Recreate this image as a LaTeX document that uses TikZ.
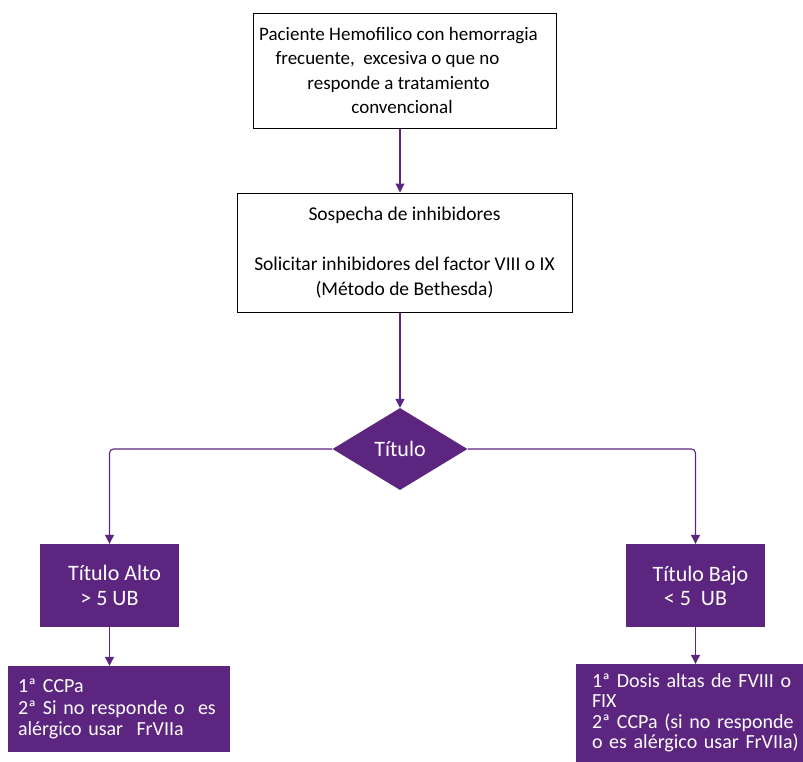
\documentclass[tikz,border=0pt]{standalone}
\usepackage{fontspec}
\setmainfont{Carlito}
\usetikzlibrary{arrows.meta,shapes.geometric}
\definecolor{morado}{RGB}{92,37,128}

\tikzset{
  caja/.style={draw, line width=1pt, rectangle, inner sep=0pt, align=center,
    font=\fontsize{19}{24.5}\selectfont},
  morada/.style={fill=morado, rectangle, inner sep=0pt, text=white,
    font=\fontsize{20}{21}\selectfont},
  flecha/.style={draw=morado, line width=1.1pt, rounded corners=4pt,
    -{Triangle[width=9pt,length=9pt]}}
}

\begin{document}
\begin{tikzpicture}[x=1pt, y=-1pt]
  \useasboundingbox (0,0) rectangle (803,761);
  \node[caja, minimum width=303, minimum height=115] (n1) at (404.5,70.5)
    {Paciente Hemofilico con hemorragia\hspace*{12pt}\null\\
     frecuente,\ \ excesiva o que no\hspace*{34pt}\null\\
     responde a tratamiento\hspace*{12pt}\null\\
     convencional\hspace*{5pt}\null};
  \node[caja, minimum width=335, minimum height=119, font=\fontsize{19.5}{25}\selectfont]
    (n2) at (404.5,252.5)
    {Sospecha de inhibidores\\[25pt]Solicitar inhibidores del factor VIII o IX\\(Método de Bethesda)};
  \node[diamond, fill=morado, text=white, inner sep=0pt, minimum width=135, minimum height=82,
    font=\fontsize{22}{24}\selectfont] (n3) at (400,449) {Título};
  \node[morada, minimum width=139, minimum height=83, align=center,
    font=\fontsize{22}{25}\selectfont] (n4) at (109.5,585.5) {\hspace*{10pt}Título Alto\\> 5 UB};
  \node[morada, minimum width=139, minimum height=83, align=center,
    font=\fontsize{22}{24}\selectfont] (n5) at (695.5,585.5) {\hspace*{10pt}Título Bajo\\< 5\ \ UB};
  \node[morada, minimum width=222, minimum height=86, text width=202, inner xsep=10,
    align=left, font=\fontsize{20}{21.5}\selectfont] (n6) at (119,709)
    {1ª CCPa\\2ª Si no responde o\ \ es\\alérgico usar\ \ FrVIIa};
  \node[morada, minimum width=262, minimum height=98, text width=230, inner xsep=16,
    align=left, font=\fontsize{20}{20.5}\selectfont] (n7) at (707,713)
    {1ª Dosis altas de FVIII o\\FIX\\2ª CCPa (si no responde\\o es alérgico usar FrVIIa)};

  \draw[flecha] (n1.south -| n3) -- (n2.north -| n3);
  \draw[flecha] (n2.south -| n3) -- (n3.north);
  \draw[flecha] (n3.west) -| (n4.north);
  \draw[flecha] (n3.east) -| (n5.north);
  \foreach \x/\y in {4/6, 5/7}
    \draw[flecha] (n\x.south) -- (n\x.south |- n\y.north);
\end{tikzpicture}
\end{document}
